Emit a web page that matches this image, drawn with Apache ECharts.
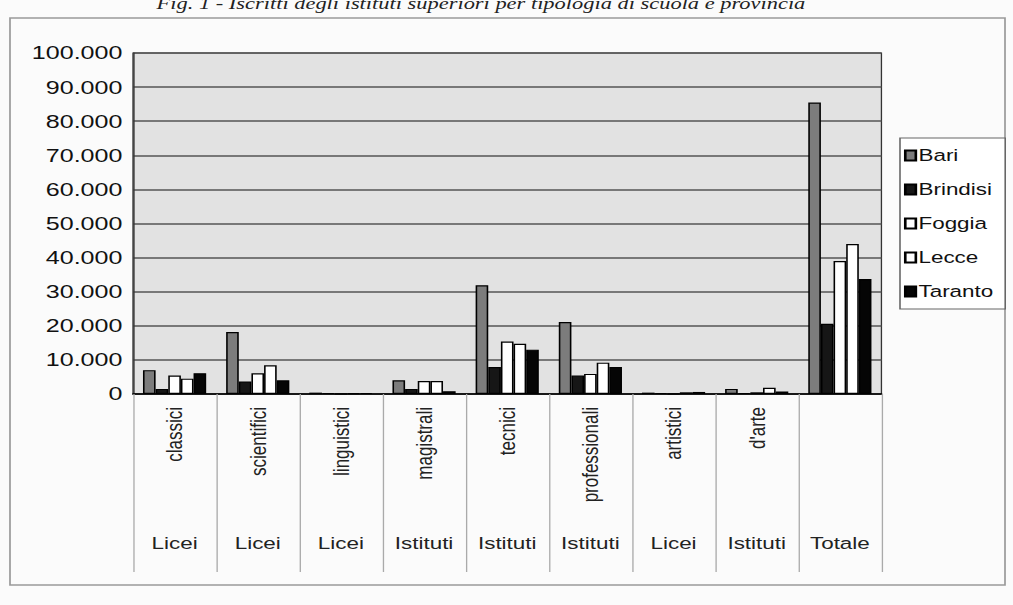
<!DOCTYPE html>
<html>
<head>
<meta charset="utf-8">
<script src="https://cdn.jsdelivr.net/npm/echarts@6/dist/echarts.min.js"></script>
<style>
  html, body { margin: 0; padding: 0; background: #fbfbfb; overflow: hidden; }
  /* la scansione originale e' allargata in orizzontale: stesso effetto qui */
  #container { width: 767px; height: 605px; transform: scaleX(1.32); transform-origin: 0 0; }
</style>
</head>
<body>
<div id="container"></div>
<script>
// dati
var tipi = ['classici', 'scientifici', 'linguistici', 'magistrali', 'tecnici', 'professionali', 'artistici', "d'arte", ''];
var gruppi = ['Licei', 'Licei', 'Licei', 'Istituti', 'Istituti', 'Istituti', 'Licei', 'Istituti', 'Totale'];
var province = ['Bari', 'Brindisi', 'Foggia', 'Lecce', 'Taranto'];
var bari     = [7000, 18200, 400, 4000, 31900, 21100, 400, 1500, 85500];
var brindisi = [1500, 3700, 300, 1500, 7900, 5400, 300, 300, 20600];
var foggia   = [5400, 6100, 100, 3800, 15400, 5900, 100, 500, 39000];
var lecce    = [4500, 8400, 200, 3800, 14700, 9200, 500, 1800, 44000];
var taranto  = [6100, 4000, 300, 800, 13000, 7900, 600, 700, 33700];
var colori = ['#7c7c7c', '#161616', '#ffffff', '#ffffff', '#050505'];

var valori = [bari, brindisi, foggia, lecce, taranto];
var font = 'Liberation Sans, Arial, sans-serif';
var sx = 1.32; // allargamento orizzontale

function migliaia(v) {
    return String(v).replace(/\B(?=(\d{3})+(?!\d))/g, '.');
}

var myChart = echarts.init(document.getElementById('container'), null, { renderer: 'svg' });
var option = {
    backgroundColor: '#fbfbfb',
    animation: false,
    title: {
        text: 'Fig. 1 - Iscritti degli istituti superiori per tipologia di scuola e provincia',
        left: 150 / sx,
        top: -10,
        textStyle: { fontFamily: 'Liberation Serif', fontStyle: 'italic', fontWeight: 'normal', fontSize: 17, color: '#222' }
    },
    graphic: [{
        type: 'rect',
        shape: { x: 10 / sx, y: 18, width: 995 / sx, height: 567 },
        style: { fill: 'none', stroke: '#9a9a9a', lineWidth: 1.3 },
        silent: true,
        z: -1
    }],
    legend: {
        data: province,
        orient: 'vertical',
        left: 900 / sx,
        top: 138,
        padding: [9, 9, 9, 3],
        itemWidth: 8,
        itemHeight: 10,
        itemGap: 17,
        icon: 'rect',
        borderColor: '#666',
        borderWidth: 1.2,
        backgroundColor: '#fff',
        textStyle: { fontFamily: font, fontSize: 17, color: '#111', padding: [0, 0, 0, -3] }
    },
    grid: {
        left: 133 / sx,
        right: 131 / sx,
        top: 53,
        bottom: 211,
        show: true,
        backgroundColor: '#e2e2e2',
        borderColor: '#333',
        borderWidth: 1
    },
    xAxis: [{
        type: 'category',
        data: tipi,
        axisLine: { lineStyle: { color: '#000', width: 1.5 } },
        axisTick: { show: true, interval: 0, length: 178, lineStyle: { color: '#aaa', width: 1 } },
        axisLabel: { interval: 0, rotate: 90, margin: 13, fontFamily: font, fontSize: 17, color: '#222' }
    }, {
        type: 'category',
        data: gruppi,
        position: 'bottom',
        axisLine: { show: false },
        axisTick: { show: false },
        axisLabel: { interval: 0, margin: 141, fontFamily: font, fontSize: 17, color: '#222' }
    }],
    yAxis: {
        type: 'value',
        min: 0,
        max: 100000,
        interval: 10000,
        axisLine: { show: true, lineStyle: { color: '#333' } },
        axisTick: { show: false },
        splitLine: { lineStyle: { color: '#555', width: 1.5 } },
        axisLabel: { formatter: migliaia, margin: 8, fontFamily: font, fontSize: 19, color: '#111' }
    },
    series: province.map(function (p, i) {
        return {
            name: p,
            type: 'bar',
            data: valori[i],
            barGap: '0%',
            barCategoryGap: '24%',
            itemStyle: { color: colori[i], borderColor: '#000', borderWidth: 1.2 }
        };
    })
};

myChart.setOption(option);
</script>
</body>
</html>
